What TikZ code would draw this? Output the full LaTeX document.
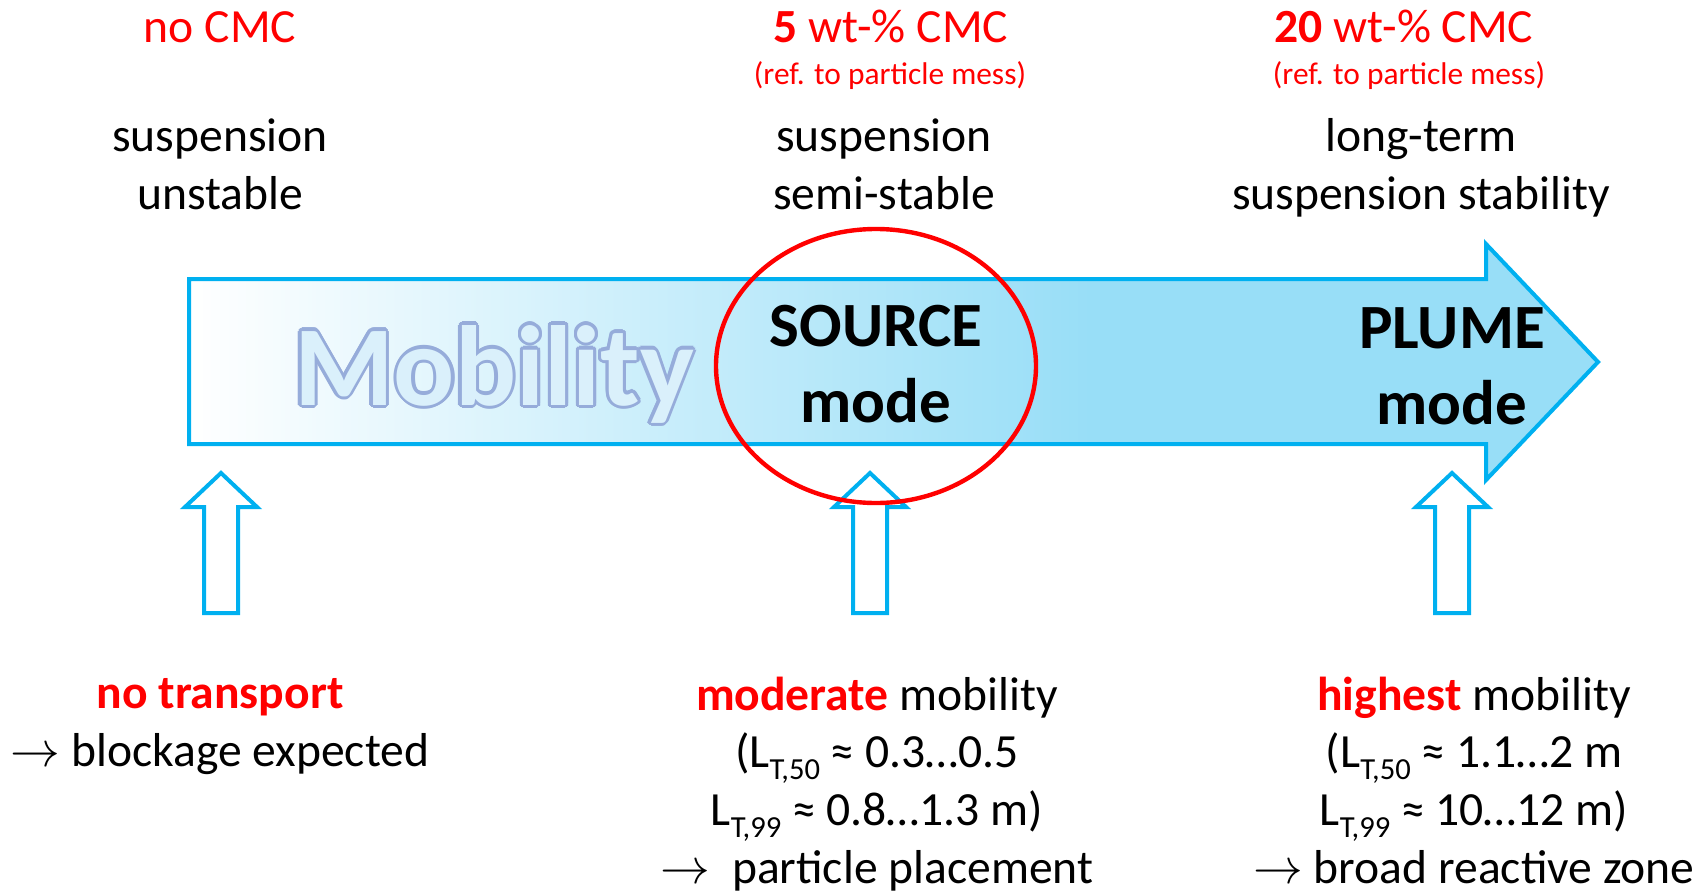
\documentclass[tikz,border=0pt]{standalone}
\usepackage{fontspec}
\setmainfont{Carlito}
\usetikzlibrary{positioning}

\definecolor{cmcred}{RGB}{255,0,0}
\definecolor{flowblue}{RGB}{0,176,240}
\definecolor{flowfill}{RGB}{152,222,247}
\definecolor{mobfill}{RGB}{218,240,251}
\definecolor{mobline}{RGB}{150,172,218}

\pgfdeclarehorizontalshading{flowfade}{100bp}{color(0bp)=(white); color(25bp)=(white); color(57bp)=(flowfill); color(100bp)=(flowfill)}

% subscript of the transport length
\newcommand{\lsub}[1]{\raisebox{-6pt}{\fontsize{15.3}{16}\selectfont #1}}

\begin{document}
\begin{tikzpicture}[x=0.5pt,y=-0.5pt,
    txt/.style={font=\fontsize{23.8}{28.8}\selectfont, align=center, anchor=base, inner sep=0pt},
    note/.style={txt, font=\fontsize{15.7}{19}\selectfont, text=cmcred},
    modetxt/.style={txt, font=\fontsize{31.5}{38}\selectfont\bfseries},
    mobility/.style={anchor=base, inner sep=0pt, font=\fontsize{57}{60}\selectfont\bfseries},
    uparrow/.style={draw=flowblue, line width=2pt, line join=miter}]
    \useasboundingbox (0,0) rectangle (1708,894);

    % big arrow
    \shadedraw[shading=flowfade, draw=flowblue, line width=2pt, line join=miter]
        (189,279) -- (1486,279) -- (1486,244) -- (1598,362) -- (1486,480) -- (1486,444) -- (189,444) -- cycle;

    % Mobility, outlined
    \foreach \a in {0,30,...,330}
        \node[mobility, text=mobline, shift={(\a:1.6pt)}] at (494,405) {Mobility};
    \node[mobility, text=mobfill] (mob) at (494,405) {Mobility};

    % header row
    \node[txt, text=cmcred] (h1) at (220,42) {no CMC};
    \node[txt, text=cmcred] (h2) at (891,42) {\textbf{5} wt-\% CMC};
    \node[note] (r2) at (890,84) {(ref. to particle mess)};
    \node[txt, text=cmcred] (h3) at (1404,42) {\textbf{20} wt-\% CMC};
    \node[note] (r3) at (1409,84) {(ref. to particle mess)};

    % stability (base = last line)
    \node[txt] (s1) at (220,209) {suspension\\unstable};
    \node[txt] (s2) at (884,209) {suspension\\semi-stable};
    \node[txt] (s3) at (1421,209) {long-term\\suspension stability};

    % modes
    \node[modetxt] (src) at (876,422) {SOURCE\\mode};
    \node[modetxt] (plume) at (1452,424) {PLUME\\mode};

    % small arrows
    \foreach \ux in {221,870,1452}
        \draw[uparrow] ({\ux-17},613) -- ({\ux-17},507) -- ({\ux-36},507) -- (\ux,473)
            -- ({\ux+36},507) -- ({\ux+17},507) -- ({\ux+17},613) -- cycle;

    % red ring round the source mode
    \draw[cmcred, line width=2.2pt] (876,366) ellipse [x radius=80pt, y radius=68.5pt];

    % results
    \node[txt] (m1) at (220,766) {\textcolor{cmcred}{\textbf{no transport}}\\$\rightarrow$ blockage expected};
    \node[txt] (m2) at (877,883) {\textcolor{cmcred}{\textbf{moderate}} mobility\\
        (L\lsub{T,50} ≈ 0.3…0.5\\L\lsub{T,99} ≈ 0.8…1.3 m)\\$\rightarrow$\ \ particle placement};
    \node[txt] (m3) at (1474,883) {\textcolor{cmcred}{\textbf{highest}} mobility\\
        (L\lsub{T,50} ≈ 1.1…2 m\\L\lsub{T,99} ≈ 10…12 m)\\$\rightarrow$ broad reactive zone};
\end{tikzpicture}
\end{document}
